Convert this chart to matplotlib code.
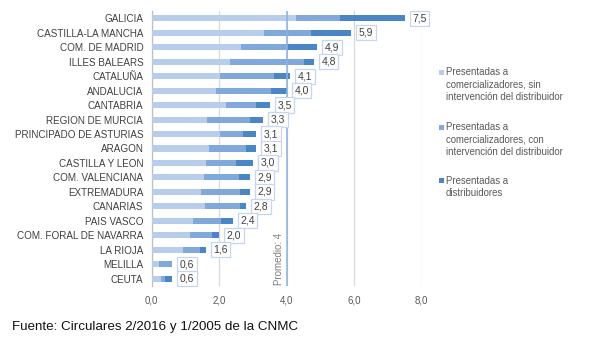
import matplotlib
matplotlib.use("Agg")
import matplotlib.pyplot as plt
from matplotlib.patches import Rectangle

plt.rcParams["font.family"] = ["Liberation Sans", "DejaVu Sans"]

regions = [
    "GALICIA", "CASTILLA-LA MANCHA", "COM. DE MADRID", "ILLES BALEARS",
    "CATALUÑA", "ANDALUCIA", "CANTABRIA", "REGION DE MURCIA",
    "PRINCIPADO DE ASTURIAS", "ARAGON", "CASTILLA Y LEON", "COM. VALENCIANA",
    "EXTREMADURA", "CANARIAS", "PAIS VASCO", "COM. FORAL DE NAVARRA",
    "LA RIOJA", "MELILLA", "CEUTA",
]
# totals shown in the value labels
totals = [7.5, 5.9, 4.9, 4.8, 4.1, 4.0, 3.5, 3.3, 3.1, 3.1, 3.0, 2.9, 2.9,
          2.8, 2.4, 2.0, 1.6, 0.6, 0.6]
# commercialisers, without distributor intervention
sin_intervencion = [4.28, 3.33, 2.65, 2.32, 2.02, 1.91, 2.20, 1.64, 2.02,
                    1.71, 1.61, 1.55, 1.46, 1.58, 1.23, 1.13, 0.93, 0.22, 0.27]
# commercialisers, with distributor intervention
con_intervencion = [1.30, 1.39, 1.35, 2.19, 1.60, 1.62, 0.89, 1.27, 0.69,
                    1.08, 0.89, 1.03, 1.16, 1.04, 0.82, 0.65, 0.50, 0.37, 0.12]
# remainder presented directly to distributors
distribuidores = [t - a - b for t, a, b in zip(totals, sin_intervencion, con_intervencion)]

promedio = 4
xticks = [0, 2, 4, 6, 8]
xtick_labels = ["0,0", "2,0", "4,0", "6,0", "8,0"]
legend_labels = [
    "Presentadas a\ncomercializadores, sin\nintervención del distribuidor",
    "Presentadas a\ncomercializadores, con\nintervención del distribuidor",
    "Presentadas a\ndistribuidores",
]
colors = ["#B7CDEA", "#80A8DA", "#4A86C5"]
fuente = "Fuente: Circulares 2/2016 y 1/2005 de la CNMC"

W, H = 591, 349
fig = plt.figure(figsize=(W / 100, H / 100), dpi=100)
ax = fig.add_axes([151.7 / W, 1 - 286 / H, 270 / W, 275 / H])

y = list(range(len(regions)))
bh = 0.42
left = [0] * len(regions)
for vals, c in zip([sin_intervencion, con_intervencion, distribuidores], colors):
    ax.barh(y, vals, left=left, height=bh, color=c, zorder=3)
    left = [l + v for l, v in zip(left, vals)]

for yi, t in zip(y, totals):
    ax.annotate(f"{t:.1f}".replace(".", ","), xy=(t, yi), xytext=(5.5, 0),
                textcoords="offset points", ha="left", va="center",
                fontsize=7.5, color="#404040", zorder=5,
                bbox=dict(boxstyle="square,pad=0.25", fc="white",
                          ec="#C5D7EE", lw=0.9))

ax.axvline(promedio, color="#8DB2E0", lw=1.1, zorder=4)
ax.text(promedio - 0.07, len(regions) - 0.55, f"Promedio: {promedio}", rotation=90,
        ha="right", va="bottom", fontsize=7, color="#7F7F7F")

ax.set_xlim(0, 8)
ax.set_ylim(len(regions) - 0.5, -0.5)
ax.set_xticks(xticks)
ax.set_xticklabels(xtick_labels)
ax.set_yticks(y)
ax.set_yticklabels(regions)
ax.tick_params(axis="x", length=0, labelsize=7, colors="#595959", pad=7)
ax.tick_params(axis="y", length=0, labelsize=7.1, colors="#404040", pad=6)
ax.grid(axis="x", color="#D9D9D9", lw=0.9, zorder=0)
for s in ["top", "right", "bottom"]:
    ax.spines[s].set_visible(False)
ax.spines["left"].set_color("#BFBFBF")
ax.spines["left"].set_linewidth(0.9)

# legend, drawn as squares with wrapped captions
leg_y = [72, 127, 181]
for ly, lab, c in zip(leg_y, legend_labels, colors):
    fig.patches.append(Rectangle((439 / W, 1 - (ly + 2.5) / H), 5 / W, 5 / H,
                                 transform=fig.transFigure, fc=c, ec="none"))
    fig.text(446 / W, 1 - (ly - 5) / H, lab, ha="left", va="top", fontsize=6.9,
             color="#595959", linespacing=1.3)

fig.text(12 / W, 1 - 327 / H, fuente, ha="left", va="center", fontsize=9.6,
         color="#111111")

fig.savefig("out.png", dpi=100)
